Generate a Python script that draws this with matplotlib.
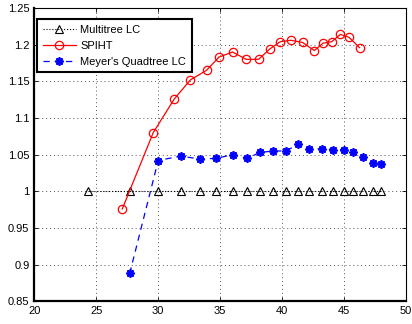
import matplotlib
matplotlib.use('Agg')
import matplotlib.pyplot as plt

# Datos
multitree_x = [24.3, 27.7, 30.0, 31.8, 33.4, 34.7, 36.0, 37.2, 38.2, 39.3,
               40.3, 41.3, 42.2, 43.2, 44.1, 45.0, 45.7, 46.5, 47.3, 48.0]
multitree_y = [1.0] * len(multitree_x)

spiht_x = [27.1, 29.6, 31.3, 32.6, 33.9, 34.9, 36.0, 37.1, 38.1, 39.0,
           39.85, 40.7, 41.65, 42.6, 43.3, 44.0, 44.7, 45.4, 46.25]
spiht_y = [0.976, 1.080, 1.126, 1.152, 1.165, 1.183, 1.190, 1.180, 1.180, 1.194,
           1.204, 1.206, 1.203, 1.192, 1.202, 1.204, 1.214, 1.210, 1.196]

meyer_x = [27.7, 30.0, 31.8, 33.4, 34.7, 36.0, 37.2, 38.2, 39.3,
           40.3, 41.3, 42.2, 43.2, 44.1, 45.0, 45.7, 46.5, 47.3, 48.0]
meyer_y = [0.888, 1.042, 1.048, 1.044, 1.045, 1.050, 1.045, 1.053, 1.055,
           1.055, 1.064, 1.058, 1.058, 1.057, 1.057, 1.053, 1.047, 1.039, 1.037]

x_ticks = [20, 25, 30, 35, 40, 45, 50]
y_ticks = [0.85, 0.9, 0.95, 1, 1.05, 1.1, 1.15, 1.2, 1.25]

plt.rcParams['font.family'] = ['Liberation Sans', 'DejaVu Sans']

fig = plt.figure(figsize=(4.12, 3.24), dpi=100)
ax = fig.add_axes([34.3 / 412, 1 - 301.3 / 324, (406 - 34.3) / 412, (301.3 - 8) / 324])

ax.plot(multitree_x, multitree_y, linestyle=':', color='black', lw=0.8,
        marker='^', markersize=6, markerfacecolor='none', markeredgecolor='black',
        markeredgewidth=0.8, label='Multitree LC')
ax.plot(spiht_x, spiht_y, linestyle='-', color='red', lw=0.9,
        marker='o', markersize=6, markerfacecolor='none', markeredgecolor='red',
        markeredgewidth=0.9, label='SPIHT')
# asterisco de 8 brazos como el '*' de MATLAB
ax.plot(meyer_x, meyer_y, linestyle='--', color='blue', lw=0.9, dashes=(5, 4),
        marker=(8, 2, 0), markersize=6, markeredgecolor='blue',
        markeredgewidth=1.3, label="Meyer's Quadtree LC")

ax.set_xlim(20, 50)
ax.set_ylim(0.85, 1.25)
ax.set_xticks(x_ticks)
ax.set_xticklabels([str(t) for t in x_ticks])
ax.set_yticks(y_ticks)
ax.set_yticklabels(['0.85', '0.9', '0.95', '1', '1.05', '1.1', '1.15', '1.2', '1.25'])
ax.tick_params(direction='in', length=3, labelsize=8, width=0.6, top=True, right=True)
ax.grid(True, linestyle=(0, (1, 3)), color='#555555', lw=0.7)

ax.spines['left'].set_linewidth(1.6)
ax.spines['bottom'].set_linewidth(1.6)
ax.spines['top'].set_linewidth(0.8)
ax.spines['right'].set_linewidth(0.8)

leg = ax.legend(loc='upper left', bbox_to_anchor=(37 / 412, 1 - 19 / 324),
                bbox_transform=fig.transFigure, borderaxespad=0, fontsize=8,
                fancybox=False, framealpha=1, edgecolor='black',
                handlelength=3.0, handletextpad=0.4, borderpad=0.5, labelspacing=0.55)
leg.get_frame().set_linewidth(1.5)

fig.savefig('out.png', dpi=100)
